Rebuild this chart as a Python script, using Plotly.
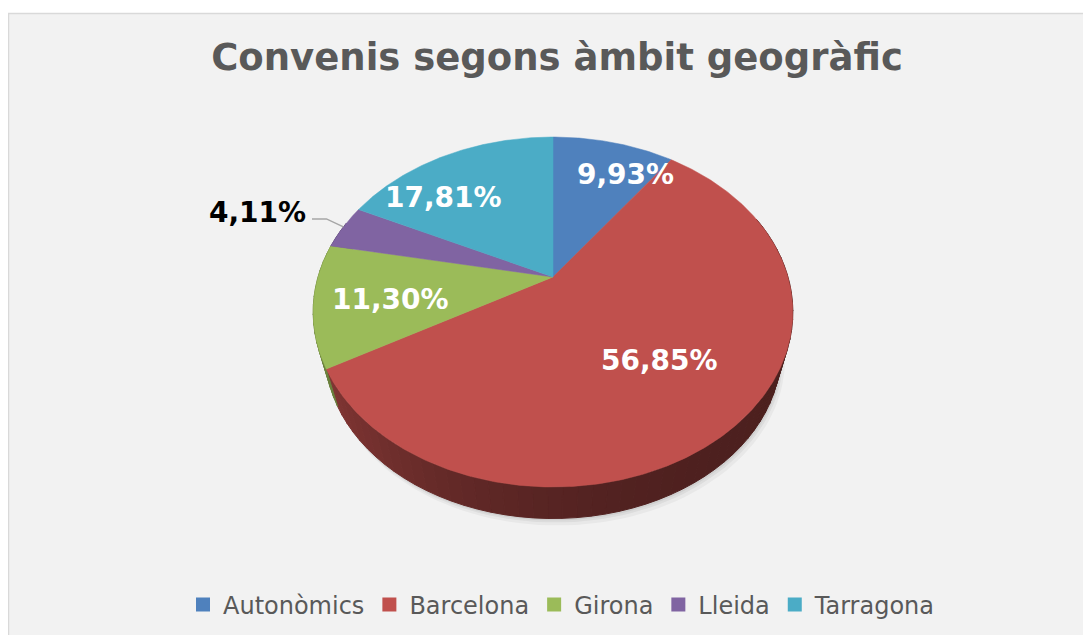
import numpy as np
import plotly.graph_objects as go

# ---------------- data ----------------
categories = ["Autonòmics", "Barcelona", "Girona", "Lleida", "Tarragona"]
values = [9.93, 56.85, 11.30, 4.11, 17.81]
value_labels = ["9,93%", "56,85%", "11,30%", "4,11%", "17,81%"]
colors = ["#4F81BD", "#C0504D", "#9BBB59", "#8064A2", "#4BACC6"]
title_text = "Convenis segons àmbit geogràfic"

# ---------------- geometry (page pixel space) ----------------
W, H = 1091, 635
OFF = 8                    # page body margin
CX, CY = 553, 277          # apex of the pie
RX, RY = 235, 168          # projected radii
PERSP = 0.2                # perspective strength
BOT_SCALE = 0.95           # bottom face appears smaller (perspective)
BOT_DROP = 42              # vertical drop of the bottom face centre

# label centres (pixel) and label colours
label_pos = [(625, 174), (659, 360), (390, 299), (257, 212), (443, 197)]
label_color = ["white", "white", "white", "black", "white"]


def proj(theta_deg, r=1.0):
    t = np.radians(theta_deg)
    u = r * np.sin(t)
    v = r * np.cos(t)
    s = 1.0 / (1.0 + PERSP * v)
    return CX + RX * u * s, CY - RY * v * s


def proj_bottom(theta_deg):
    x, y = proj(theta_deg)
    return CX + (x - CX) * BOT_SCALE, CY + BOT_DROP + (y - CY) * BOT_SCALE


def shade(hex_color, f):
    h = hex_color.lstrip("#")
    r, g, b = (int(h[i:i + 2], 16) for i in (0, 2, 4))
    return "rgb(%d,%d,%d)" % (r * f, g * f, b * f)


total = sum(values)
bounds = np.concatenate([[0], np.cumsum(values)]) / total * 360.0

fig = go.Figure()

# soft shadow under the pie
full = np.linspace(0, 360, 181)
for k, alpha in ((7, 0.04), (4, 0.05), (2, 0.06)):
    sx, sy = zip(*[proj_bottom(t) for t in full])
    fig.add_trace(go.Scatter(
        x=[x + k * 0.6 for x in sx], y=[y + k for y in sy], mode="lines",
        fill="toself", fillcolor="rgba(0,0,0,%.2f)" % alpha,
        line=dict(width=0), hoverinfo="skip", showlegend=False))

# side walls (front part), drawn before the top faces
for i, c in enumerate(colors):
    a0, a1 = bounds[i], bounds[i + 1]
    n = max(2, int(np.ceil((a1 - a0) / 3.0)))
    edges = np.linspace(a0, a1, n + 1)
    for a, b in zip(edges[:-1], edges[1:]):
        mid = (a + b) / 2
        if np.cos(np.radians(mid)) > 0.35:
            continue
        u = np.sin(np.radians(mid))
        f = 0.40 + 0.32 * ((1 - u) / 2) ** 2.5
        col = shade(c, f)
        arc = np.linspace(a, b, 4)
        xt, yt = zip(*[proj(t) for t in arc])
        xb, yb = zip(*[proj_bottom(t) for t in arc[::-1]])
        fig.add_trace(go.Scatter(
            x=list(xt) + list(xb) + [xt[0]], y=list(yt) + list(yb) + [yt[0]],
            mode="lines", fill="toself", fillcolor=col,
            line=dict(color=col, width=1), hoverinfo="skip", showlegend=False))

# top faces
for i, c in enumerate(colors):
    a0, a1 = bounds[i], bounds[i + 1]
    arc = np.linspace(a0, a1, max(3, int((a1 - a0) * 2)))
    pts = [proj(t) for t in arc]
    xs = [CX] + [p[0] for p in pts] + [CX]
    ys = [CY] + [p[1] for p in pts] + [CY]
    fig.add_trace(go.Scatter(
        x=xs, y=ys, mode="lines", fill="toself", fillcolor=c,
        line=dict(color=c, width=0.5), hoverinfo="text",
        text=f"{categories[i]}: {value_labels[i]}", showlegend=False))

# leader line for the small slice (Lleida)
li = categories.index("Lleida")
mid = (bounds[li] + bounds[li + 1]) / 2
rx_, ry_ = proj(mid, 1.0)
fig.add_trace(go.Scatter(
    x=[rx_, rx_ - 17, label_pos[li][0] + 55], y=[ry_, ry_ - 8, ry_ - 8],
    mode="lines", line=dict(color="#A6A6A6", width=1.5),
    hoverinfo="skip", showlegend=False))

# legend entries
for cat, c in zip(categories, colors):
    fig.add_trace(go.Scatter(
        x=[None], y=[None], mode="markers", name=cat,
        marker=dict(symbol="square", size=14, color=c)))

# data labels
for (lx, ly), txt, col in zip(label_pos, value_labels, label_color):
    fig.add_annotation(x=lx, y=ly, xref="x", yref="y", text=txt,
                       showarrow=False, xanchor="center", yanchor="middle",
                       font=dict(family="DejaVu Sans", size=28, color=col,
                                 weight="bold"))

# chart area background frame
fig.add_shape(type="rect", xref="paper", yref="paper",
              x0=0.5 / W, x1=1.01, y0=-0.01, y1=1 - 5.5 / H,
              fillcolor="#F2F2F2", line=dict(color="#D9D9D9", width=1.5),
              layer="below")

fig.update_layout(
    width=W, height=H, autosize=False,
    margin=dict(l=0, r=0, t=0, b=0),
    paper_bgcolor="white", plot_bgcolor="rgba(0,0,0,0)",
    title=dict(text=title_text, x=(557 - OFF) / W, y=1 - (57 - OFF) / H,
               xanchor="center", yanchor="middle",
               font=dict(family="DejaVu Sans", size=37, color="#595959",
                         weight="bold")),
    xaxis=dict(range=[OFF, W + OFF], visible=False, fixedrange=True),
    yaxis=dict(range=[H + OFF, OFF], visible=False, fixedrange=True),
    legend=dict(orientation="h", x=(562 - OFF) / W, xanchor="center",
                y=1 - (605 - OFF) / H, yanchor="middle",
                font=dict(family="DejaVu Sans", size=24, color="#595959"),
                bgcolor="rgba(0,0,0,0)", itemclick=False),
    showlegend=True,
)

fig.write_html("out.html")
